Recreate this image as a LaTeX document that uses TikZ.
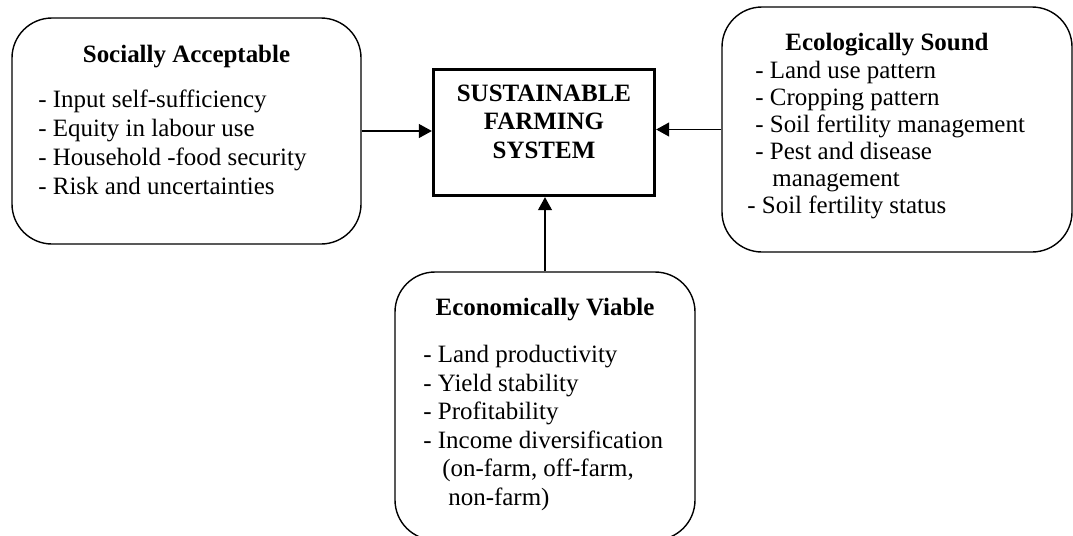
\documentclass[tikz,border=0pt]{standalone}
\usepackage{fontspec}
\setmainfont{Liberation Serif}
\usetikzlibrary{arrows.meta,positioning}

\begin{document}
\begin{tikzpicture}[
    roundbox/.style={draw, line width=0.8pt, rounded corners=0.8cm, inner sep=0pt},
    corebox/.style={draw, line width=1.9pt, inner sep=0pt},
    head/.style={font=\fontsize{14.2}{16.2}\selectfont\bfseries, align=center, anchor=base, inner sep=0pt},
    items/.style={font=\fontsize{14.2}{16.4}\selectfont, align=left, anchor=base west, inner sep=0pt},
    feed/.style={-{Triangle[length=0.26cm,width=0.28cm]}, line width=0.6pt}
]
    \useasboundingbox (0,0) rectangle (21.46,-10.7);

    \node[roundbox, minimum width=6.98cm, minimum height=4.52cm] (social) at (3.73,-2.62) {};
    \node[corebox, minimum width=4.42cm, minimum height=2.52cm] (core) at (10.88,-2.65) {};
    \node[roundbox, minimum width=7.0cm, minimum height=4.9cm] (eco) at (17.94,-2.59) {};
    \node[roundbox, minimum width=6.0cm, minimum height=5.36cm] (econ) at (10.9,-8.12) {};

    % multi-line nodes sit on the baseline of their last line
    \node[head] (coretitle) at (10.88,-3.16) {SUSTAINABLE\\FARMING\\SYSTEM};

    \node[head] (socialtitle) at (3.73,-1.24) {Socially Acceptable};
    \node[items] (sociallist) at (0.76,-3.88) {- Input self-sufficiency\\- Equity in labour use\\- Household -food security\\- Risk and uncertainties};

    \node[head] (ecotitle) at (17.74,-1.0) {Ecologically Sound};
    \node[items, font=\fontsize{14.2}{15.3}\selectfont] (ecolist) at (14.94,-4.26)
        {\hspace*{0.16cm}- Land use pattern\\\hspace*{0.16cm}- Cropping pattern\\\hspace*{0.16cm}- Soil fertility management\\\hspace*{0.16cm}- Pest and disease\\\hspace*{0.5cm}management\\- Soil fertility status};

    \node[head] (econtitle) at (10.9,-6.3) {Economically Viable};
    \node[items, font=\fontsize{14.2}{16.2}\selectfont] (econlist) at (8.46,-10.1)
        {- Land productivity\\- Yield stability\\- Profitability\\- Income diversification\\\hspace*{0.38cm}(on-farm, off-farm,\\\hspace*{0.5cm}non-farm)};

    \draw[feed] (social.east) -- (social.east -| core.west);
    \draw[feed] (eco.west) -- (eco.west -| core.east);
    \draw[feed] (econ.north) -- (econ.north |- core.south);
\end{tikzpicture}
\end{document}
